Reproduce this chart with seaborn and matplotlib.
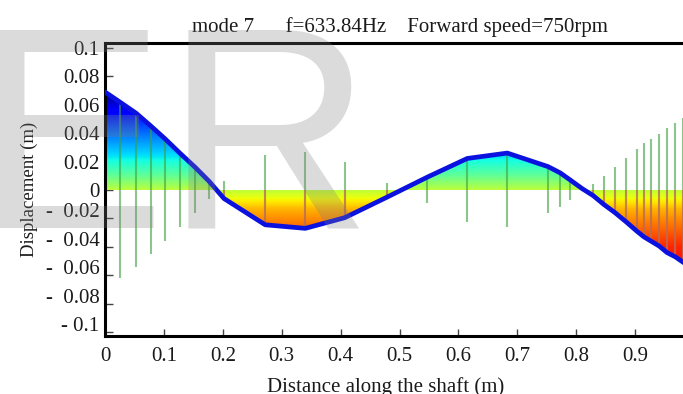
import numpy as np
import matplotlib
matplotlib.use("Agg")
import matplotlib.pyplot as plt
import matplotlib.transforms as mtransforms
import seaborn as sns

# Shaft stations (m) and the mode-7 lateral displacement at each station (m)
station_x = [0.0, 0.025, 0.053, 0.078, 0.102, 0.127, 0.153, 0.177, 0.202,
             0.272, 0.340, 0.407, 0.479, 0.547, 0.615, 0.683, 0.752, 0.773,
             0.790, 0.810, 0.829, 0.847, 0.866, 0.885, 0.903, 0.915, 0.927,
             0.941, 0.954, 0.968, 0.982, 1.0]
displacement = [0.069, 0.062, 0.054, 0.045, 0.036, 0.026, 0.016, 0.006, -0.006,
                -0.0245, -0.027, -0.0195, -0.005, 0.009, 0.0222, 0.026, 0.0165, 0.012,
                0.007, 0.001, -0.004, -0.0102, -0.016, -0.0225, -0.029, -0.033, -0.036,
                -0.0395, -0.044, -0.047, -0.051, -0.056]

x_ticks = [0.0, 0.1, 0.2, 0.3, 0.4, 0.5, 0.6, 0.7, 0.8, 0.9]
x_tick_labels = ["0", "0.1", "0.2", "0.3", "0.4", "0.5", "0.6", "0.7", "0.8", "0.9"]
y_ticks = [0.1, 0.08, 0.06, 0.04, 0.02, 0.0, -0.02, -0.04, -0.06, -0.08, -0.1]
y_tick_labels = ["0.1", "0.08", "0.06", "0.04", "0.02", "0",
                 "-  0.02", "-  0.04", "-  0.06", "-  0.08", "- 0.1"]

title_text = "mode 7      f=633.84Hz    Forward speed=750rpm"
x_label = "Distance along the shaft (m)"
y_label = "Displacement (m)"

# jet colour level as a function of displacement (used for the shaded fill)
shade_y = [-0.08, -0.055, -0.04, -0.025, -0.0136, -0.007, 0.0, 0.01, 0.025, 0.045, 0.068, 0.09]
shade_level = [0.92, 0.90, 0.87, 0.79, 0.72, 0.65, 0.58, 0.47, 0.34, 0.20, 0.02, 0.0]

sns.set_theme(style="white")
plt.rcParams["font.family"] = ["Liberation Serif", "DejaVu Serif"]
plt.rcParams["text.color"] = "#1a1a1a"
plt.rcParams["axes.labelcolor"] = "#1a1a1a"
plt.rcParams["xtick.color"] = "#1a1a1a"
plt.rcParams["ytick.color"] = "#1a1a1a"

Y_LO, Y_HI = -0.1028, 0.1035
X_LO, X_HI = 0.0, 1.0

fig = plt.figure(figsize=(6.83, 3.94), dpi=100)
fig.patch.set_facecolor("white")
ax = fig.add_axes([105 / 683, 58 / 394, 589 / 683, 293 / 394])
ax.set_facecolor("white")

xs = np.asarray(station_x)
ys = np.asarray(displacement)

# colour-graded area between the mode shape and the shaft axis
area = ax.fill_between(xs, ys, 0, facecolor="none", edgecolor="none")
grid_y = np.linspace(Y_LO, Y_HI, 800)
rgba = plt.get_cmap("jet")(np.interp(grid_y, shade_y, shade_level))[:, None, :]
img = ax.imshow(rgba, extent=[X_LO, X_HI, Y_LO, Y_HI], origin="lower",
                aspect="auto", interpolation="bilinear", zorder=1)
img.set_clip_path(area.get_paths()[0], transform=ax.transData)

# whirl amplitude at each interior station
sx = xs[1:-1]
sy = ys[1:-1]
amp = np.abs(sy)
ax.vlines(sx, -amp, amp, colors="#3f9f3f", alpha=0.6, lw=1.5, zorder=2)
neg = sy < 0
ax.vlines(sx[neg], sy[neg], 0, colors="#ff4f6a", alpha=0.5, lw=1.5, zorder=2.2)

# mode shape
sns.lineplot(x=xs, y=ys, ax=ax, color="#0b12e0", lw=3.4, sort=False, zorder=3)

ax.set_xlim(X_LO, X_HI)
ax.set_ylim(Y_LO, Y_HI)

for s in ax.spines.values():
    s.set_linewidth(2.2)
    s.set_color("black")

ax.set_xticks(x_ticks)
ax.set_xticklabels(x_tick_labels)
ax.set_yticks(y_ticks)
ax.set_yticklabels(y_tick_labels)
ax.tick_params(axis="both", direction="in", length=5, width=1.0, color="#444444",
               labelsize=15, left=True, bottom=True, top=False, right=False)
ax.tick_params(axis="x", pad=8)
ax.tick_params(axis="y", pad=4, length=6)

# negative labels sit slightly above their ticks
shift = mtransforms.ScaledTranslation(0, 8 / 100, fig.dpi_scale_trans)
for lab, val in zip(ax.get_yticklabels(), y_ticks):
    if val < 0:
        lab.set_transform(lab.get_transform() + shift)

ax.set_title(title_text, fontsize=15, pad=8)
ax.set_xlabel(x_label, fontsize=15)
ax.xaxis.set_label_coords(0.477, -0.14)
ax.set_ylabel(y_label, fontsize=13.5)
ax.yaxis.set_label_coords(-0.113, 0.5)

# background lettering
fig.text(-27 / 683, 1 - 228 / 394, "ER", fontsize=207, family="Liberation Sans",
         color="#808080", alpha=0.28, ha="left", va="baseline", zorder=10)

fig.savefig("out.png", dpi=100)
